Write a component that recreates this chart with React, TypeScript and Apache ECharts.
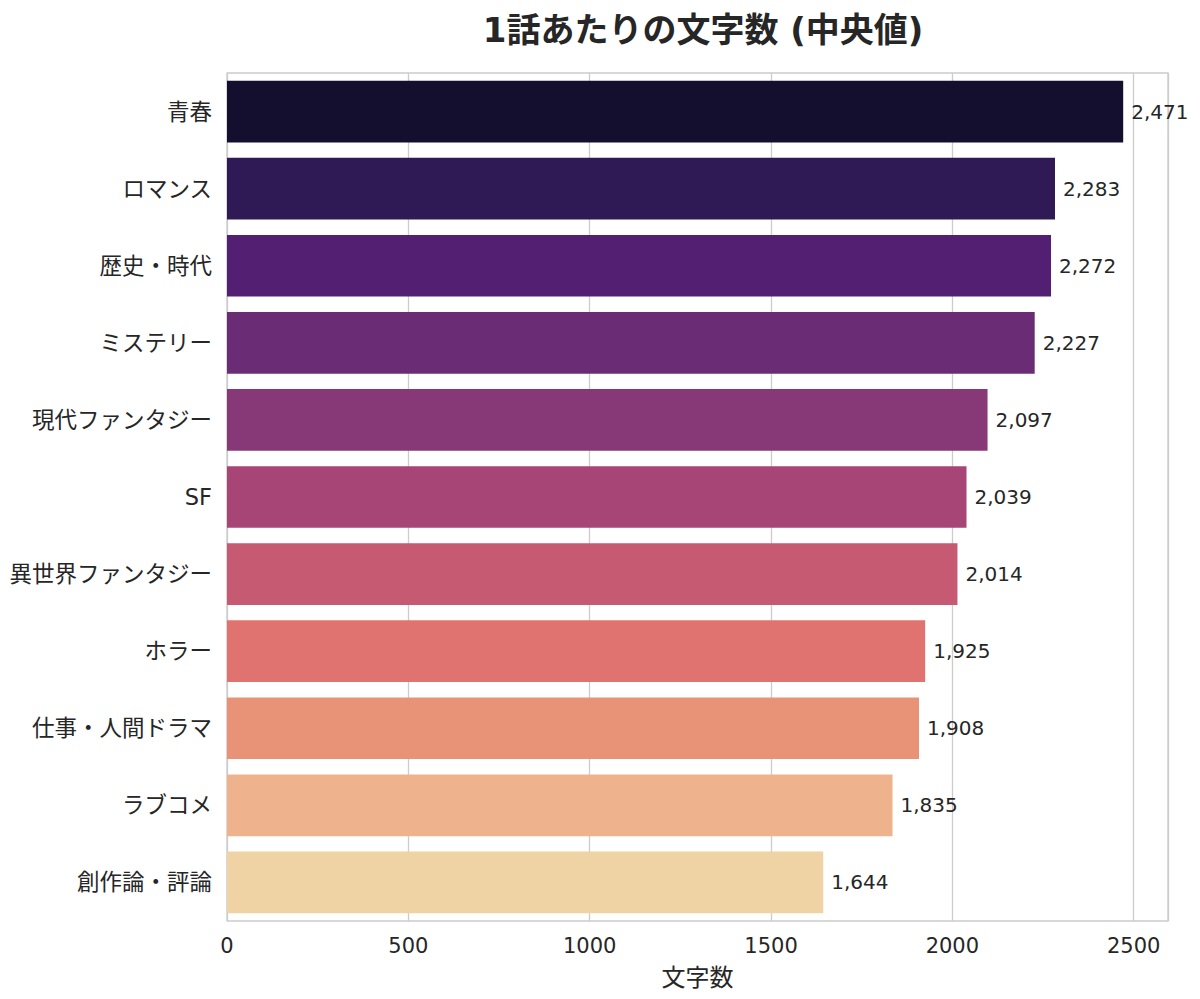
import React, { useEffect, useRef } from "react";
import * as echarts from "echarts";

const categories = [
  "青春",
  "ロマンス",
  "歴史・時代",
  "ミステリー",
  "現代ファンタジー",
  "SF",
  "異世界ファンタジー",
  "ホラー",
  "仕事・人間ドラマ",
  "ラブコメ",
  "創作論・評論",
];
const values = [2471, 2283, 2272, 2227, 2097, 2039, 2014, 1925, 1908, 1835, 1644];
const colors = [
  "#140f2e",
  "#2f1a55",
  "#521f72",
  "#6a2c75",
  "#873876",
  "#a74676",
  "#c65a72",
  "#e0726f",
  "#e89377",
  "#eeb28c",
  "#f0d3a4",
];
const xTicks = [0, 500, 1000, 1500, 2000, 2500];

const FONT = "'DejaVu Sans', 'Noto Sans CJK JP', sans-serif";

export default function App() {
  const ref = useRef<HTMLDivElement>(null);
  useEffect(() => {
    if (!ref.current) return;
    const chart = echarts.init(ref.current, undefined, { renderer: "svg" });
    const xMax = Math.max(...values) * 1.05;
    chart.setOption({
      animation: false,
      backgroundColor: "#ffffff",
      textStyle: { fontFamily: FONT },
      title: {
        text: "1話あたりの文字数 (中央値)",
        left: 698,
        textAlign: "center",
        top: 8,
        textStyle: { fontFamily: FONT, fontSize: 34, fontWeight: "bold", color: "#262626" },
      },
      grid: {
        left: 227,
        right: 32,
        top: 73,
        bottom: 78,
        show: true,
        borderColor: "#cccccc",
        borderWidth: 1.3,
        containLabel: false,
      },
      xAxis: {
        type: "value",
        min: 0,
        max: xMax,
        interval: 500,
        name: "文字数",
        nameLocation: "middle",
        nameGap: 45,
        nameTextStyle: { fontFamily: FONT, fontSize: 24, color: "#262626" },
        axisLine: { show: false },
        axisTick: { show: false },
        axisLabel: {
          fontFamily: FONT,
          fontSize: 21,
          color: "#262626",
          margin: 14,
          showMaxLabel: false,
          formatter: (v: number) => (xTicks.includes(v) ? String(v) : ""),
        },
        splitLine: { show: true, lineStyle: { color: "#cccccc", width: 1.3 } },
      },
      yAxis: {
        type: "category",
        data: categories,
        inverse: true,
        axisLine: { show: false },
        axisTick: { show: false },
        axisLabel: { fontFamily: FONT, fontSize: 22.5, color: "#262626", margin: 15 },
        splitLine: { show: false },
      },
      series: [
        {
          type: "bar",
          barWidth: "80%",
          data: values.map((v, i) => ({ value: v, itemStyle: { color: colors[i] } })),
          label: {
            show: true,
            position: "right",
            distance: 8,
            fontFamily: FONT,
            fontSize: 20,
            color: "#262626",
            formatter: (p: any) => Number(p.value).toLocaleString("en-US"),
          },
        },
      ],
    });
    return () => chart.dispose();
  }, []);
  return (
    <div
      ref={ref}
      style={{ position: "absolute", left: 0, top: 0, width: 1200, height: 999 }}
    />
  );
}
